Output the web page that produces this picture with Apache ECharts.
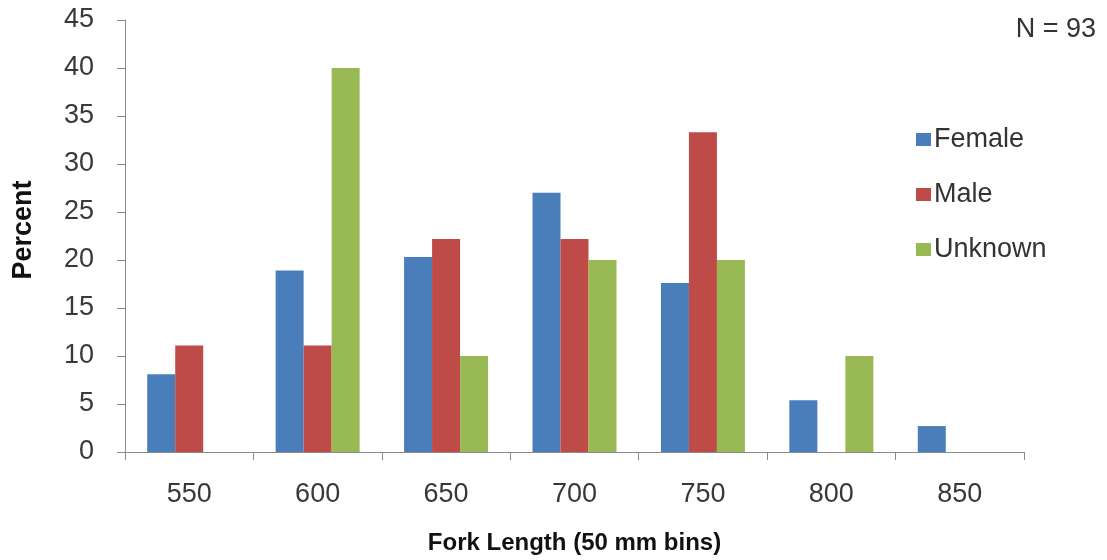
<!DOCTYPE html>
<html>
<head>
<meta charset="utf-8">
<script src="https://cdn.jsdelivr.net/npm/echarts@6/dist/echarts.min.js"></script>
<style>
  html, body { margin: 0; padding: 0; background: #fff; }
  #chart { width: 1107px; height: 560px; }
</style>
</head>
<body>
<div id="chart"></div>
<script>
// Fork length bins (mm) and percent of fish in each bin by sex
const bins = ['550', '600', '650', '700', '750', '800', '850'];
const female = [8.1, 18.9, 20.3, 27.0, 17.6, 5.4, 2.7];
const male = [11.1, 11.1, 22.2, 22.2, 33.3, 0, 0];
const unknown = [0, 40, 10, 20, 20, 10, 0];
const seriesNames = ['Female', 'Male', 'Unknown'];
const colors = ['#4A7EBB', '#BE4B48', '#98B954'];

const font = '"Liberation Sans", Arial, sans-serif';
const chart = echarts.init(document.getElementById('chart'));

chart.setOption({
  animation: false,
  backgroundColor: '#fff',
  textStyle: { fontFamily: font },
  grid: { left: 125, right: 83, top: 20, bottom: 107, containLabel: false },
  title: {
    text: 'N = 93',
    right: 6,
    top: 11,
    textStyle: { fontFamily: font, fontSize: 27, fontWeight: 'normal', color: '#333' }
  },
  legend: {
    orient: 'vertical',
    left: 911,
    top: 121,
    itemWidth: 15,
    itemHeight: 13,
    itemGap: 28,
    icon: 'rect',
    data: seriesNames,
    textStyle: { fontFamily: font, fontSize: 27, color: '#333', padding: [0, 0, 0, -2] }
  },
  xAxis: {
    type: 'category',
    data: bins,
    name: 'Fork Length (50 mm bins)',
    nameLocation: 'middle',
    nameGap: 79,
    nameTextStyle: { fontFamily: font, fontSize: 24, fontWeight: 'bold', color: '#111' },
    axisLine: { lineStyle: { color: '#8a8a8a', width: 1 } },
    axisTick: { show: true, length: 8, alignWithLabel: false, lineStyle: { color: '#8a8a8a' } },
    axisLabel: { margin: 29, fontSize: 27, color: '#383838', fontFamily: font }
  },
  yAxis: {
    type: 'value',
    min: 0,
    max: 45,
    interval: 5,
    name: 'Percent',
    nameLocation: 'middle',
    nameGap: 88,
    nameRotate: 90,
    nameTextStyle: { fontFamily: font, fontSize: 27, fontWeight: 'bold', color: '#111', padding: [0, 0, 0, 12] },
    axisLine: { show: true, lineStyle: { color: '#8a8a8a', width: 1 } },
    axisTick: { show: true, length: 8, lineStyle: { color: '#8a8a8a' } },
    axisLabel: { margin: 31, fontSize: 27, color: '#383838', fontFamily: font, padding: [4, 0, 0, 0] },
    splitLine: { show: false }
  },
  series: [
    { name: seriesNames[0], type: 'bar', data: female, barWidth: 28, barGap: '0%', itemStyle: { color: colors[0] } },
    { name: seriesNames[1], type: 'bar', data: male, barWidth: 28, barGap: '0%', itemStyle: { color: colors[1] } },
    { name: seriesNames[2], type: 'bar', data: unknown, barWidth: 28, barGap: '0%', itemStyle: { color: colors[2] } }
  ]
});
</script>
</body>
</html>
